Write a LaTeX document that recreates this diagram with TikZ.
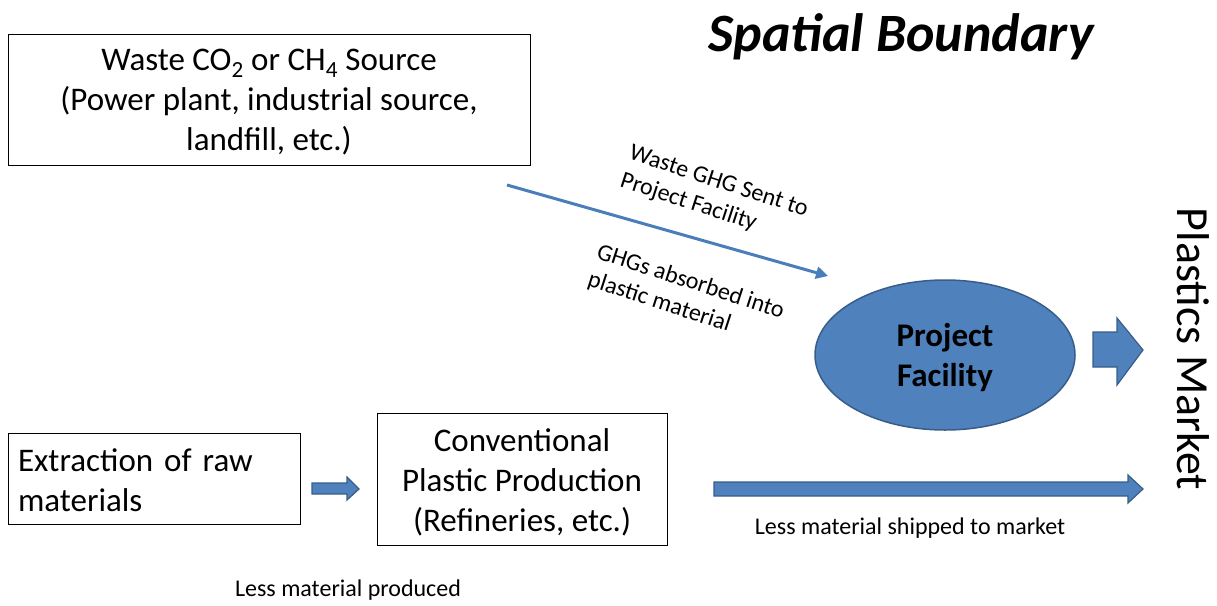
\documentclass[tikz,border=0pt]{standalone}
\usepackage{fontspec}
\setmainfont{Carlito}
\usetikzlibrary{shapes.geometric,arrows.meta}
\definecolor{blfill}{HTML}{4F81BD}
\definecolor{bldraw}{HTML}{385D8A}
\definecolor{blline}{HTML}{4A7EBB}
\tikzset{
  box/.style={draw=black, line width=0.9pt, inner sep=0pt},
  boxtext/.style={inner sep=0pt, align=center, font=\fontsize{33}{40}\selectfont},
  lbl/.style={inner sep=0pt, align=center, font=\fontsize{24}{29}\selectfont},
  blockarrow/.style={fill=blfill, draw=bldraw, line width=1.2pt, line join=miter},
}
\begin{document}
\begin{tikzpicture}[x=1pt,y=-1pt]
\useasboundingbox (0,0) rectangle (1217,605);
% boxes
\node[box, minimum width=522, minimum height=131] (src) at (269,99.5) {};
\node[boxtext] (srct) at ([yshift=-3pt]src.center)
  {Waste CO\textsubscript{2} or CH\textsubscript{4} Source\\(Power plant, industrial source,\\landfill, etc.)};
\node[box, minimum width=292, minimum height=91] (ext) at (154,478.5) {};
\node[boxtext, text width=272, align=left] (extt) at ([yshift=-2pt]ext.center)
  {Extraction of raw\\materials};
\node[box, minimum width=290, minimum height=132] (conv) at (522,479) {};
\node[boxtext] (convt) at ([yshift=-3pt]conv.center)
  {Conventional\\Plastic Production\\(Refineries, etc.)};
\node[ellipse, fill=blfill, draw=bldraw, line width=1.5pt, minimum width=260, minimum height=150,
  inner sep=0pt] (pf) at (945,355) {};
\node[boxtext, font=\fontsize{33}{40}\selectfont\bfseries] (pft) at ([yshift=-3pt]pf.center)
  {Project\\Facility};
% title
\node[inner sep=0pt, font=\fontsize{54}{60}\selectfont\bfseries\itshape] (title) at (901,37) {Spatial Boundary};
\node[inner sep=0pt, rotate=-90, font=\fontsize{46}{52}\selectfont] (mkt) at (1193,349) {Plastics Market};
% thin arrow
\coordinate (ws) at (507,185);
\coordinate (we) at (828,276);
\draw[blline, line width=3pt, -{Triangle[length=12pt,width=12pt]}] (ws) -- (we);
\node[lbl, align=left, rotate=-18] (l1) at (714,196) {Waste GHG Sent to\\Project Facility};
\node[lbl, align=left, rotate=-18] (l2) at (686,296) {GHGs absorbed into\\plastic material};
% block arrows
\draw[blockarrow] (1093,332) -- (1117,332) -- (1117,318) -- (1143,350) -- (1117,385) -- (1117,367) -- (1093,367) -- cycle;
\draw[blockarrow] (312,483) -- (347,483) -- (347,477) -- (359,489) -- (347,500) -- (347,494) -- (312,494) -- cycle;
\draw[blockarrow] (714,482) -- (1128,482) -- (1128,475) -- (1143,489) -- (1128,503) -- (1128,496) -- (714,496) -- cycle;
% bottom labels
\node[lbl] (ship) at (910,528) {Less material shipped to market};
\node[lbl] (prod) at (348,590) {Less material produced};
\end{tikzpicture}
\end{document}
